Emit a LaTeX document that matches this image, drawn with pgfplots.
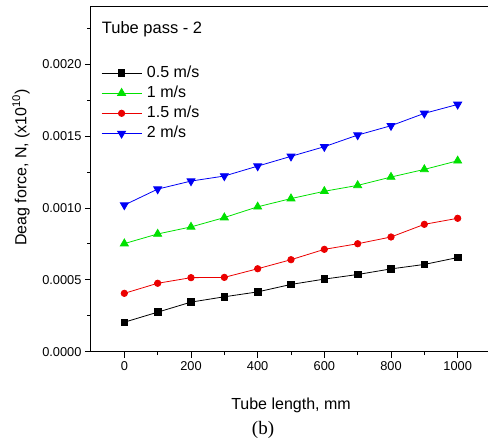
\documentclass[border=0pt]{standalone}
\usepackage{fontspec}
\setmainfont{Liberation Sans}
\newfontfamily\serif{Liberation Serif}
\usepackage{pgfplots}
\pgfplotsset{compat=1.18}
\usetikzlibrary{calc}
\definecolor{lgreen}{RGB}{0,225,0}
\definecolor{lred}{RGB}{235,0,0}
\definecolor{lblue}{RGB}{0,0,245}
\begin{document}
\begin{tikzpicture}
\begin{axis}[
  scale only axis, width=400pt, height=345pt,
  xmin=-100, xmax=1100, ymin=0, ymax=0.0024,
  xtick={0,200,400,600,800,1000},
  minor xtick={100,300,500,700,900},
  ytick={0,0.0005,0.001,0.0015,0.002},
  minor ytick={0.00025,0.00075,0.00125,0.00175,0.00225},
  tick align=outside, tick pos=left,
  major tick length=6pt, minor tick length=3.5pt,
  axis line style={line width=1pt}, every tick/.style={black, line width=0.8pt},
  scaled y ticks=false,
  /pgf/number format/assume math mode=true,
  yticklabel style={/pgf/number format/.cd, fixed, fixed zerofill, precision=4},
  xticklabel style={/pgf/number format/set thousands separator={}},
  tick label style={font=\fontsize{12.8}{14}\selectfont},
  xlabel={Tube length, mm},
  ylabel={Deag force, N, (x10\textsuperscript{10})},
  label style={font=\fontsize{16}{19}\selectfont},
  xlabel style={at={(axis description cs:0.5,-0.155)}, anchor=center},
  ylabel style={at={(axis description cs:-0.175,0.534)}, anchor=center},
  legend style={at={(rel axis cs:0.025,0.834)}, anchor=north west, draw=none, fill=none,
    inner xsep=0pt, inner ysep=0pt, row sep=2.7pt, column sep=4pt,
    font=\fontsize{16}{19}\selectfont,
    nodes={inner sep=1pt, text height=12pt, text depth=3.5pt}},
  legend cell align=left,
  legend image code/.code={\draw[mark repeat=2, mark phase=2] plot coordinates {(0pt,0pt) (20pt,0pt) (40pt,0pt)};},
  every axis plot/.append style={line width=0.8pt},
]
\addplot[black, mark=square*, mark size=3.3pt, mark options={solid}] coordinates {
  (0,0.000205) (100,0.000275) (200,0.000345) (300,0.000382) (400,0.000416)
  (500,0.000468) (600,0.000505) (700,0.000537) (800,0.000576) (900,0.000607) (1000,0.000655)};
\addlegendentry{0.5 m/s}
\addplot[lgreen, mark=triangle*, mark size=4.6pt, mark options={solid}] coordinates {
  (0,0.000752) (100,0.000819) (200,0.000868) (300,0.000933) (400,0.001008)
  (500,0.001065) (600,0.001116) (700,0.001157) (800,0.001215) (900,0.001268) (1000,0.001328)};
\addlegendentry{1 m/s}
\addplot[lred, mark=*, mark size=3.2pt, mark options={solid}] coordinates {
  (0,0.000406) (100,0.000476) (200,0.000515) (300,0.000517) (400,0.000577)
  (500,0.000640) (600,0.000712) (700,0.000751) (800,0.000798) (900,0.000886) (1000,0.000928)};
\addlegendentry{1.5 m/s}
\addplot[lblue, mark=triangle*, mark size=4.6pt, mark options={solid, rotate=180}] coordinates {
  (0,0.001020) (100,0.001131) (200,0.001187) (300,0.001222) (400,0.001291)
  (500,0.001359) (600,0.001426) (700,0.001507) (800,0.001572) (900,0.001658) (1000,0.001720)};
\addlegendentry{2 m/s}
\node[anchor=base west, inner sep=0pt, font=\fontsize{16.5}{19}\selectfont] at (rel axis cs:0.0267,0.923) {Tube pass - 2};
\end{axis}
\node[font=\serif\fontsize{19}{22}\selectfont] at ($(current axis.south west)+(172pt,-78.3pt)$) {(b)};
\pgfresetboundingbox
\path ($(current axis.south west)+(-91pt,-89.3pt)$) rectangle ($(current axis.north west)+(397pt,6.7pt)$);
\end{tikzpicture}
\end{document}
